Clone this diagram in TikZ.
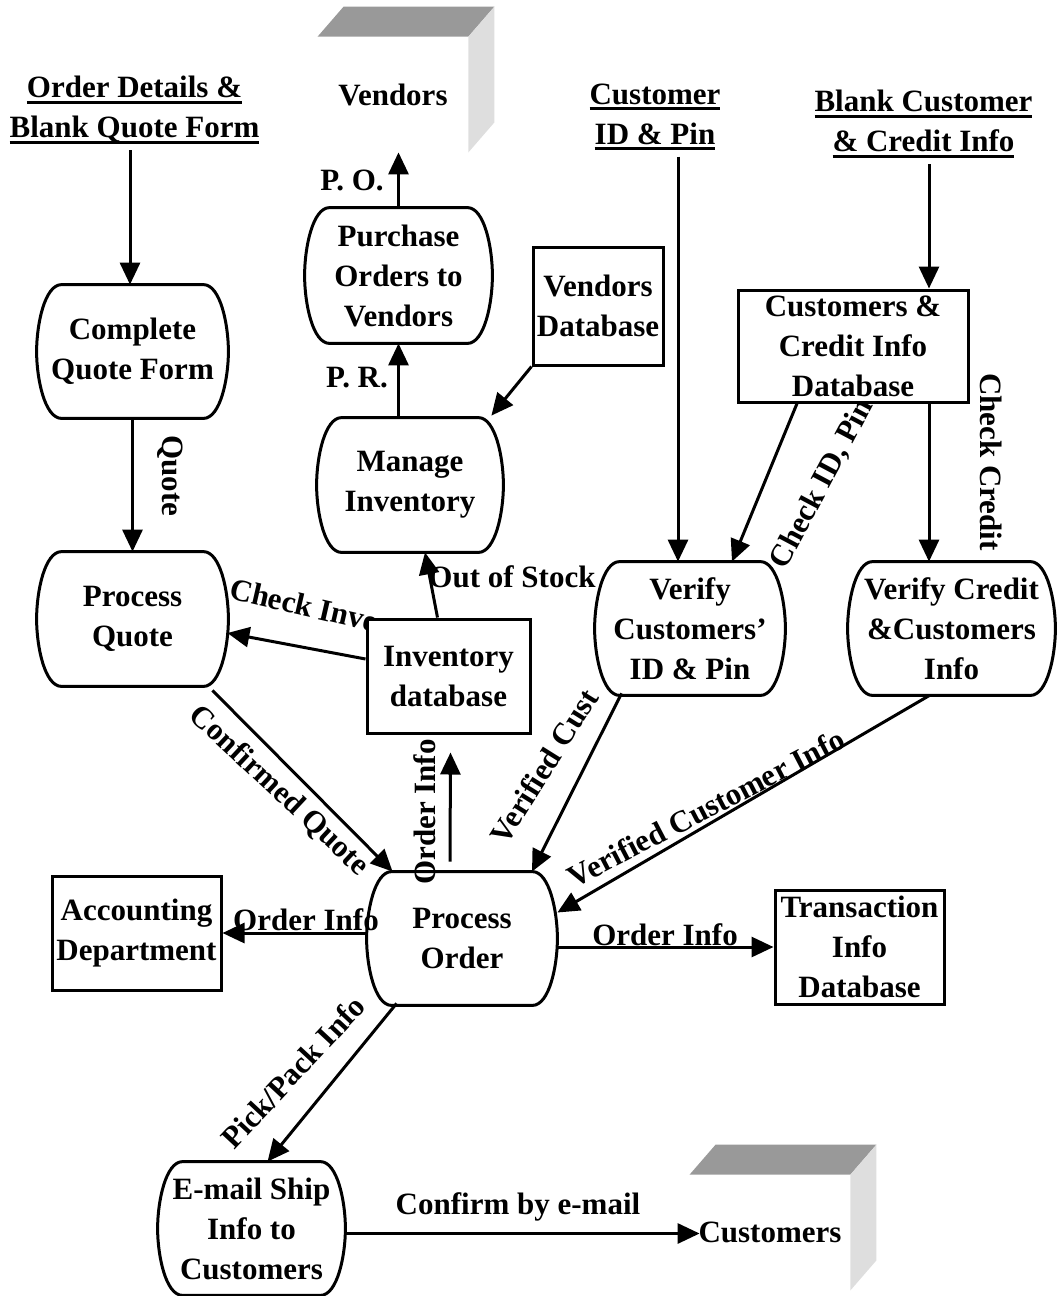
\documentclass[tikz,border=0pt]{standalone}
\usepackage{fontspec}
\setmainfont{Liberation Serif}
\usetikzlibrary{arrows.meta,calc}
\definecolor{cubetop}{HTML}{999999}
\definecolor{cubeside}{HTML}{DEDEDE}
\newlength\ulw
\newcommand\myul[1]{\settowidth\ulw{#1}#1\hspace{-\ulw}\rule[-3pt]{\ulw}{1.5pt}}
\newcommand\procshape[1]{%
  \draw[line width=1.5pt] let \p1=(#1.north west), \p2=(#1.south east), \p3=($(#1.north west)!0.5!(#1.south east)$) in
   (\x1+12.5pt,\y1) -- (\x2-12.5pt,\y1)
   .. controls (\x2-4pt,\y1) and (\x2,\y1-20pt) .. (\x2,\y3)
   .. controls (\x2,\y2+20pt) and (\x2-4pt,\y2) .. (\x2-12.5pt,\y2)
   -- (\x1+12.5pt,\y2)
   .. controls (\x1+4pt,\y2) and (\x1,\y2+20pt) .. (\x1,\y3)
   .. controls (\x1,\y1-20pt) and (\x1+4pt,\y1) .. cycle;}
\tikzset{
 every node/.style={font=\bfseries\fontsize{15.5}{20}\selectfont},
 proc/.style={rectangle, inner sep=0pt, align=center},
 store/.style={rectangle, draw, line width=1.5pt, fill=white, inner sep=0pt, align=center},
 ext/.style={inner sep=0pt, align=center},
 lab/.style={inner sep=0pt},
 flow/.style={line width=1.5pt, -{Triangle[length=11pt,width=10pt]}},
 cube/.style={rectangle, inner sep=0pt, fill=white},
}
\begin{document}
\begin{tikzpicture}[x=0.5pt,y=-0.5pt]
\useasboundingbox (0,0) rectangle (1057,1296);

% 3D entities
\node[cube, minimum width=75pt, minimum height=57.5pt] (vend) at (393,94.5) {Vendors};
\fill[cubetop] (vend.north west) -- ++(26,-30) -- ($(vend.north east)+(26,-30)$) -- (vend.north east) -- cycle;
\fill[cubeside] (vend.north east) -- ++(26,-30) -- ($(vend.south east)+(26,-30)$) -- (vend.south east) -- cycle;
\node[cube, minimum width=80pt, minimum height=57.5pt] (cust) at (770,1232.5) {Customers};
\fill[cubetop] (cust.north west) -- ++(26,-30) -- ($(cust.north east)+(26,-30)$) -- (cust.north east) -- cycle;
\fill[cubeside] (cust.north east) -- ++(26,-30) -- ($(cust.south east)+(26,-30)$) -- (cust.south east) -- cycle;

% external sources
\node[ext] (odq) at (134.5,110) {\myul{Order Details \&}\\\myul{Blank Quote Form}};
\node[ext] (cid) at (655,117) {\myul{Customer}\\\myul{ID \& Pin}};
\node[ext] (bcc) at (923.5,124) {\myul{Blank Customer}\\\myul{\& Credit Info}};

% processes
\node[proc, minimum width=95.5pt, minimum height=66.5pt] (cqf) at (132.5,351.5) {Complete\\Quote Form};
\procshape{cqf}
\node[proc, minimum width=95.5pt, minimum height=67pt] (pq) at (132.5,619) {Process\\Quote};
\procshape{pq}
\node[proc, minimum width=93.5pt, minimum height=67.5pt] (pov) at (398.5,275.5) {Purchase\\Orders to\\Vendors};
\procshape{pov}
\node[proc, minimum width=93pt, minimum height=67pt] (mi) at (410,485) {Manage\\Inventory};
\procshape{mi}
\node[proc, minimum width=95pt, minimum height=66.5pt] (vc) at (690,628.5) {Verify\\Customers’\\ID \& Pin};
\procshape{vc}
\node[proc, minimum width=103.5pt, minimum height=66.5pt] (vcr) at (951.5,628.5) {Verify Credit\\\&Customers\\Info};
\procshape{vcr}
\node[proc, minimum width=95pt, minimum height=66.5pt] (po) at (462,938.5) {Process\\Order};
\procshape{po}
\node[proc, minimum width=93.5pt, minimum height=66.5pt] (es) at (251.5,1228.5) {E-mail Ship\\Info to\\Customers};
\procshape{es}

% flow labels
\node[lab] (lpo) at (352,180) {P. O.};
\node[lab] (lpr) at (357,378) {P. R.};
\node[lab, rotate=-90] (lq) at (170,476) {Quote};
\node[lab, rotate=-13] (lci) at (304,605) {Check Inve};
\node[lab] (los) at (512,577) {Out of Stock};
\node[lab, rotate=62] (lcid) at (822,484) {Check ID, Pin};
\node[lab, rotate=-90] (lcc) at (991,462) {Check Credit};
\node[lab, rotate=-43] (lcq) at (279,791) {Confirmed Quote};
\node[lab, rotate=90] (loi1) at (425,812) {Order Info};
\node[lab, rotate=58] (lvc) at (544,766) {Verified Cust};
\node[lab, rotate=27.5] (lvci) at (706,808) {Verified Customer Info};
\node[lab] (loi2) at (306,920) {Order Info};
\node[lab] (loi3) at (665,935) {Order Info};
\node[lab, rotate=47] (lpp) at (293,1072) {Pick/Pack Info};
\node[lab] (lce) at (518,1207) {Confirm by e-mail};

% data stores
\node[store, minimum width=65pt, minimum height=59pt] (vdb) at (598,306) {Vendors\\Database};
\node[store, minimum width=115pt, minimum height=56pt] (ccdb) at (853,346) {Customers \&\\Credit Info\\Database};
\node[store, minimum width=81.5pt, minimum height=57pt] (idb) at (448.5,676) {Inventory\\database};
\node[store, minimum width=84.5pt, minimum height=57pt] (acc) at (136.5,933) {Accounting\\Department};
\node[store, minimum width=84.5pt, minimum height=57pt] (tdb) at (859.5,947) {Transaction\\Info\\Database};

% flows
\coordinate (cqfin) at ($(cqf.north)+(-2.5,0)$);
\draw[flow] ($(cqfin |- odq.south)+(0,6)$) -- (cqfin);
\draw[flow] (cqf.south) -- (pq.north);
\draw[flow] ($(idb.west)+(0,-17)$) -- ($(pq.east)+(-1,14)$);
\draw[flow] ($(idb.north)+(-11,0)$) -- ($(mi.south)+(15,0)$);
\draw[flow] (pov.south |- mi.north) -- (pov.south);
\draw[flow] (pov.north) -- (pov.north |- vend.south);
\draw[flow] (vdb.south west) -- ($(mi.north east)+(-12,-2)$);
\coordinate (vcin) at ($(vc.north)+(-12,0)$);
\draw[flow] ($(vcin |- cid.south)+(0,6)$) -- (vcin);
\coordinate (ccin) at ($(ccdb.north)+(76,0)$);
\draw[flow] ($(ccin |- bcc.south)+(0,6)$) -- (ccin);
\draw[flow] ($(ccdb.south)+(-56,0)$) -- ($(vc.north)+(42,0)$);
\coordinate (ccout) at ($(ccdb.south)+(76,0)$);
\draw[flow] (ccout) -- (ccout |- vcr.north);
\draw[flow] ($(vc.south west)+(27,-2)$) -- ($(po.north)+(70,0)$);
\draw[flow] ($(vcr.south)+(-22,0)$) -- ($(po.east)+(0,-26)$);
\draw[flow] ($(pq.south east)+(-16,4)$) -- ($(po.north west)+(26,0)$);
\draw[flow] ($(po.north)+(-12,-10)$) -- ($(idb.south)+(2,18)$);
\draw[flow] (po.west |- acc.east) -- (acc.east);
\draw[flow] (po.east |- tdb.west) -- (tdb.west);
\draw[flow] ($(po.south west)+(30,-2)$) -- ($(es.north)+(16,0)$);
\draw[flow] ($(es.east)+(0,5)$) -- ($(cust.west)+(10,1)$);
\end{tikzpicture}
\end{document}
